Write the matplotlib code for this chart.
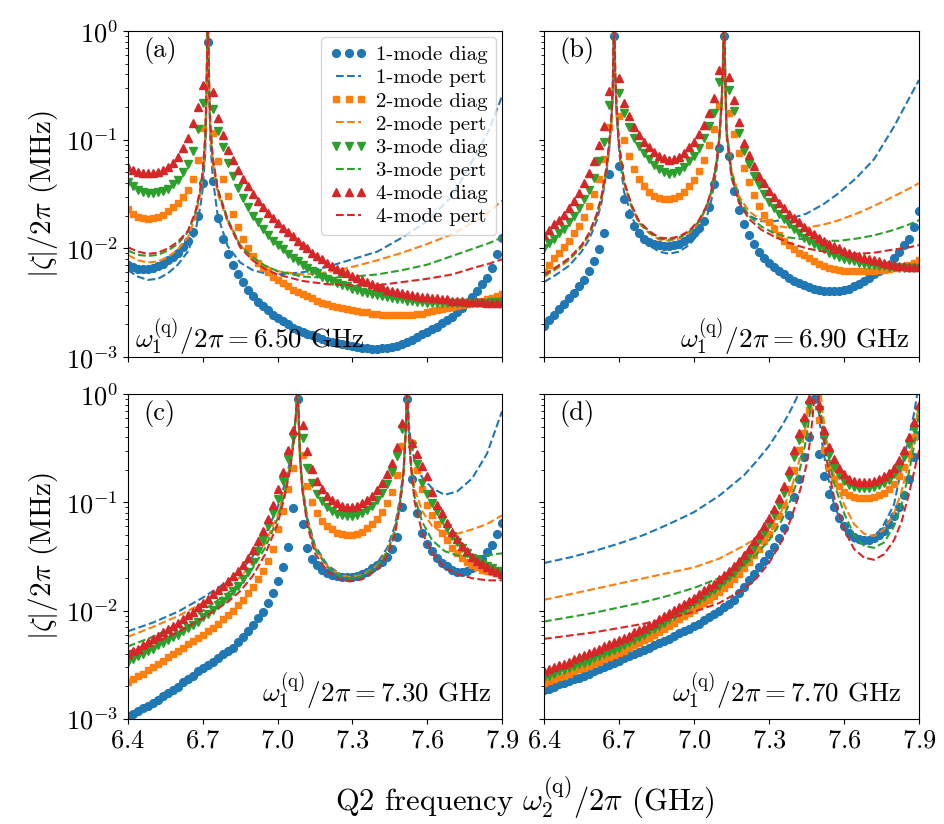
import numpy as np
import matplotlib
matplotlib.use('Agg')
import matplotlib.pyplot as plt

plt.rcParams['font.family'] = 'serif'
plt.rcParams['font.serif'] = ['cmr10']
plt.rcParams['mathtext.fontset'] = 'cm'
plt.rcParams['axes.formatter.use_mathtext'] = True

# Q2 frequency grid of the diagonalisation points (GHz)
q2 = np.round(np.arange(6.40, 7.901, 0.02), 2)

# values below are log10(|zeta|/2pi in MHz)
# ---- (a) w1 = 6.50 GHz
a_diag1 = [-2.15, -2.17, -2.19, -2.19, -2.19, -2.18, -2.16, -2.14, -2.11, -2.08,
           -2.04, -1.99, -1.93, -1.85, -1.70, -1.40, -0.10, -1.38, -1.72, -1.91,
           -2.05, -2.15, -2.24, -2.31, -2.38, -2.44, -2.49, -2.53, -2.57, -2.61,
           -2.64, -2.67, -2.70, -2.73, -2.75, -2.77, -2.79, -2.80, -2.82, -2.83,
           -2.85, -2.86, -2.87, -2.88, -2.89, -2.90, -2.91, -2.92, -2.92, -2.93,
           -2.93, -2.92, -2.92, -2.91, -2.90, -2.88, -2.86, -2.84, -2.82, -2.79,
           -2.77, -2.74, -2.72, -2.69, -2.66, -2.63, -2.59, -2.55, -2.50, -2.45,
           -2.39, -2.33, -2.27, -2.18, -2.05, -1.90]
a_diag2 = [-1.64, -1.68, -1.71, -1.72, -1.73, -1.72, -1.71, -1.69, -1.66, -1.62,
           -1.58, -1.53, -1.46, -1.36, -1.19, -0.89, 0.30, -0.94, -1.20, -1.36,
           -1.52, -1.68, -1.80, -1.91, -2.00, -2.07, -2.13, -2.18, -2.22, -2.26,
           -2.29, -2.32, -2.35, -2.38, -2.40, -2.42, -2.44, -2.46, -2.48, -2.50,
           -2.51, -2.53, -2.54, -2.55, -2.56, -2.57, -2.58, -2.59, -2.59, -2.60,
           -2.60, -2.61, -2.61, -2.61, -2.61, -2.61, -2.61, -2.61, -2.60, -2.60,
           -2.59, -2.58, -2.57, -2.56, -2.55, -2.54, -2.53, -2.52, -2.51, -2.50,
           -2.49, -2.48, -2.47, -2.46, -2.44, -2.42]
a_diag3 = [-1.39, -1.43, -1.46, -1.48, -1.49, -1.49, -1.48, -1.47, -1.45, -1.41,
           -1.37, -1.30, -1.22, -1.10, -0.90, -0.66, 0.30, -0.72, -0.92, -1.07,
           -1.21, -1.33, -1.44, -1.54, -1.62, -1.70, -1.76, -1.82, -1.88, -1.93,
           -1.97, -2.01, -2.05, -2.09, -2.12, -2.15, -2.18, -2.21, -2.23, -2.26,
           -2.28, -2.30, -2.32, -2.34, -2.35, -2.37, -2.38, -2.40, -2.41, -2.42,
           -2.43, -2.44, -2.45, -2.46, -2.47, -2.47, -2.48, -2.48, -2.49, -2.49,
           -2.50, -2.50, -2.50, -2.50, -2.50, -2.50, -2.50, -2.50, -2.50, -2.50,
           -2.50, -2.50, -2.50, -2.49, -2.49, -2.49]
a_diag4 = [-1.25, -1.28, -1.30, -1.31, -1.31, -1.31, -1.30, -1.28, -1.25, -1.21,
           -1.16, -1.08, -0.98, -0.85, -0.70, -0.50, 0.30, -0.56, -0.80, -0.96,
           -1.09, -1.19, -1.28, -1.36, -1.43, -1.50, -1.56, -1.62, -1.67, -1.72,
           -1.77, -1.81, -1.85, -1.89, -1.93, -1.97, -2.00, -2.04, -2.07, -2.10,
           -2.13, -2.16, -2.19, -2.21, -2.23, -2.25, -2.27, -2.29, -2.31, -2.33,
           -2.35, -2.36, -2.38, -2.39, -2.40, -2.41, -2.42, -2.43, -2.44, -2.45,
           -2.45, -2.46, -2.46, -2.47, -2.47, -2.48, -2.48, -2.48, -2.49, -2.49,
           -2.49, -2.49, -2.50, -2.50, -2.50, -2.50]
a_knots = [6.40, 6.44, 6.48, 6.52, 6.56, 6.60, 6.64, 6.67, 6.69, 6.70, 6.71, 6.715,
           6.72, 6.725, 6.73, 6.74, 6.76, 6.80, 6.85, 6.90, 6.95, 7.00, 7.10, 7.20,
           7.30, 7.40, 7.50, 7.60, 7.70, 7.80, 7.85, 7.90]
a_pert1 = [-2.20, -2.26, -2.29, -2.28, -2.23, -2.15, -2.03, -1.85, -1.62, -1.45, -1.12, -0.65,
           0.20, -0.50, -1.00, -1.35, -1.70, -1.98, -2.13, -2.20, -2.23, -2.24, -2.22, -2.17,
           -2.10, -2.03, -1.90, -1.75, -1.52, -1.12, -0.90, -0.60]
a_pert2 = [-2.06, -2.11, -2.13, -2.12, -2.08, -2.01, -1.90, -1.72, -1.50, -1.33, -1.00, -0.55,
           0.20, -0.45, -0.90, -1.22, -1.50, -1.75, -1.97, -2.08, -2.16, -2.21, -2.24, -2.22,
           -2.17, -2.11, -2.04, -1.96, -1.87, -1.74, -1.66, -1.56]
a_pert3 = [-2.02, -2.06, -2.07, -2.06, -2.02, -1.96, -1.85, -1.68, -1.47, -1.30, -0.98, -0.55,
           0.20, -0.42, -0.85, -1.17, -1.45, -1.73, -1.97, -2.08, -2.16, -2.21, -2.26, -2.27,
           -2.26, -2.24, -2.20, -2.15, -2.07, -1.99, -1.95, -1.90]
a_pert4 = [-1.99, -2.03, -2.05, -2.04, -2.00, -1.94, -1.84, -1.67, -1.46, -1.29, -0.97, -0.55,
           0.20, -0.42, -0.85, -1.17, -1.46, -1.75, -1.99, -2.11, -2.19, -2.24, -2.30, -2.33,
           -2.34, -2.34, -2.31, -2.28, -2.24, -2.17, -2.14, -2.10]

# ---- (b) w1 = 6.90 GHz
b_diag1 = [-2.71, -2.66, -2.61, -2.56, -2.51, -2.46, -2.41, -2.35, -2.29, -2.21,
           -2.12, -2.01, -1.86, -1.32, -0.05, -1.24, -1.55, -1.68, -1.79, -1.86,
           -1.91, -1.94, -1.96, -1.97, -1.98, -1.98, -1.97, -1.96, -1.93, -1.90,
           -1.86, -1.81, -1.75, -1.62, -1.41, -1.08, -0.05, -1.15, -1.47, -1.65,
           -1.78, -1.88, -1.96, -2.03, -2.09, -2.13, -2.17, -2.21, -2.24, -2.27,
           -2.30, -2.32, -2.34, -2.36, -2.37, -2.38, -2.39, -2.39, -2.39, -2.39,
           -2.38, -2.37, -2.35, -2.33, -2.30, -2.27, -2.24, -2.21, -2.18, -2.15,
           -2.09, -2.03, -1.97, -1.91, -1.80, -1.66]
b_diag2 = [-2.22, -2.15, -2.09, -2.04, -1.99, -1.93, -1.86, -1.79, -1.71, -1.61,
           -1.50, -1.36, -1.18, -0.88, 0.30, -0.78, -1.00, -1.15, -1.27, -1.36,
           -1.43, -1.48, -1.52, -1.54, -1.55, -1.55, -1.54, -1.52, -1.48, -1.43,
           -1.37, -1.29, -1.19, -1.05, -0.90, -0.69, 0.30, -0.75, -0.95, -1.12,
           -1.26, -1.39, -1.51, -1.61, -1.69, -1.76, -1.82, -1.88, -1.93, -1.97,
           -2.01, -2.04, -2.06, -2.09, -2.12, -2.14, -2.16, -2.18, -2.19, -2.20,
           -2.21, -2.21, -2.21, -2.21, -2.21, -2.21, -2.21, -2.20, -2.20, -2.19,
           -2.18, -2.17, -2.16, -2.15, -2.13, -2.11]
b_diag3 = [-2.00, -1.95, -1.91, -1.86, -1.82, -1.76, -1.70, -1.63, -1.55, -1.46,
           -1.35, -1.20, -1.02, -0.68, 0.30, -0.57, -0.75, -0.88, -0.98, -1.06,
           -1.12, -1.18, -1.23, -1.27, -1.30, -1.32, -1.31, -1.29, -1.25, -1.20,
           -1.15, -1.08, -0.98, -0.87, -0.75, -0.47, 0.30, -0.54, -0.74, -0.94,
           -1.10, -1.22, -1.33, -1.42, -1.50, -1.57, -1.63, -1.68, -1.73, -1.78,
           -1.82, -1.86, -1.90, -1.93, -1.96, -1.99, -2.01, -2.04, -2.06, -2.08,
           -2.10, -2.11, -2.12, -2.13, -2.14, -2.15, -2.15, -2.16, -2.16, -2.17,
           -2.17, -2.18, -2.18, -2.18, -2.18, -2.18]
b_diag4 = [-1.88, -1.83, -1.78, -1.74, -1.69, -1.63, -1.56, -1.49, -1.40, -1.31,
           -1.20, -1.05, -0.87, -0.55, 0.30, -0.43, -0.66, -0.78, -0.88, -0.96,
           -1.02, -1.07, -1.11, -1.15, -1.17, -1.19, -1.18, -1.16, -1.12, -1.07,
           -1.02, -0.95, -0.86, -0.75, -0.62, -0.36, 0.30, -0.42, -0.63, -0.84,
           -1.03, -1.14, -1.24, -1.33, -1.40, -1.47, -1.53, -1.58, -1.63, -1.68,
           -1.72, -1.76, -1.80, -1.84, -1.87, -1.90, -1.93, -1.96, -1.98, -2.00,
           -2.02, -2.04, -2.06, -2.07, -2.09, -2.10, -2.11, -2.12, -2.13, -2.14,
           -2.15, -2.16, -2.16, -2.17, -2.17, -2.17]
b_knots = [6.40, 6.45, 6.50, 6.55, 6.58, 6.61, 6.63, 6.65, 6.66, 6.67, 6.675, 6.68,
           6.685, 6.69, 6.70, 6.72, 6.75, 6.78, 6.82, 6.86, 6.90, 6.94, 6.98, 7.02,
           7.05, 7.07, 7.09, 7.10, 7.11, 7.115, 7.12, 7.125, 7.13, 7.15, 7.18, 7.22,
           7.27, 7.32, 7.38, 7.45, 7.52, 7.58, 7.65, 7.72, 7.80, 7.86, 7.90]
b_pert1 = [-2.31, -2.24, -2.16, -2.03, -1.92, -1.75, -1.58, -1.30, -1.10, -0.82, -0.55, 0.20,
           -0.45, -0.75, -1.10, -1.48, -1.70, -1.86, -1.97, -2.03, -2.05, -2.03, -1.97, -1.86,
           -1.72, -1.55, -1.27, -1.05, -0.70, -0.40, 0.20, -0.45, -0.95, -1.35, -1.58, -1.70,
           -1.75, -1.75, -1.73, -1.68, -1.59, -1.49, -1.35, -1.18, -0.88, -0.62, -0.45]
b_pert2 = [-2.26, -2.19, -2.11, -1.99, -1.88, -1.71, -1.54, -1.27, -1.07, -0.80, -0.53, 0.20,
           -0.43, -0.72, -1.05, -1.40, -1.62, -1.77, -1.86, -1.92, -1.93, -1.91, -1.86, -1.76,
           -1.63, -1.48, -1.22, -1.02, -0.68, -0.38, 0.20, -0.43, -0.90, -1.28, -1.52, -1.66,
           -1.74, -1.79, -1.81, -1.81, -1.78, -1.74, -1.68, -1.61, -1.52, -1.45, -1.40]
b_pert3 = [-2.25, -2.18, -2.10, -1.98, -1.87, -1.70, -1.53, -1.26, -1.06, -0.79, -0.52, 0.20,
           -0.42, -0.71, -1.04, -1.39, -1.61, -1.76, -1.85, -1.91, -1.92, -1.90, -1.85, -1.75,
           -1.62, -1.47, -1.21, -1.01, -0.67, -0.37, 0.20, -0.43, -0.92, -1.30, -1.55, -1.70,
           -1.80, -1.86, -1.90, -1.92, -1.93, -1.93, -1.91, -1.88, -1.83, -1.78, -1.74]
b_pert4 = [-2.24, -2.17, -2.09, -1.97, -1.86, -1.69, -1.52, -1.25, -1.05, -0.78, -0.51, 0.20,
           -0.41, -0.70, -1.03, -1.38, -1.60, -1.75, -1.84, -1.90, -1.91, -1.89, -1.84, -1.74,
           -1.61, -1.46, -1.20, -1.00, -0.66, -0.36, 0.20, -0.44, -0.94, -1.33, -1.58, -1.73,
           -1.83, -1.89, -1.95, -2.00, -2.03, -2.05, -2.05, -2.04, -2.01, -1.99, -1.97]

# ---- (c) w1 = 7.30 GHz
c_diag1 = [-2.97, -2.95, -2.93, -2.90, -2.88, -2.85, -2.82, -2.79, -2.76, -2.73,
           -2.70, -2.66, -2.63, -2.60, -2.56, -2.53, -2.50, -2.47, -2.44, -2.40,
           -2.37, -2.34, -2.29, -2.24, -2.19, -2.13, -2.07, -2.01, -1.93, -1.84,
           -1.73, -1.60, -1.41, -1.05, -0.05, -1.20, -1.42, -1.52, -1.58, -1.62,
           -1.65, -1.67, -1.68, -1.69, -1.69, -1.69, -1.68, -1.66, -1.64, -1.61,
           -1.58, -1.55, -1.50, -1.43, -1.32, -1.04, -0.05, -0.78, -1.10, -1.28,
           -1.38, -1.45, -1.51, -1.56, -1.59, -1.62, -1.64, -1.64, -1.63, -1.61,
           -1.57, -1.52, -1.46, -1.39, -1.29, -1.19]
c_diag2 = [-2.66, -2.63, -2.60, -2.58, -2.55, -2.52, -2.49, -2.46, -2.43, -2.40,
           -2.37, -2.34, -2.31, -2.28, -2.25, -2.22, -2.19, -2.16, -2.12, -2.08,
           -2.04, -2.00, -1.95, -1.90, -1.84, -1.78, -1.71, -1.63, -1.54, -1.43,
           -1.25, -1.08, -0.88, -0.68, 0.30, -0.56, -0.85, -1.00, -1.10, -1.17,
           -1.22, -1.25, -1.28, -1.29, -1.30, -1.30, -1.29, -1.27, -1.24, -1.20,
           -1.15, -1.09, -1.01, -0.90, -0.75, -0.48, 0.30, -0.45, -0.70, -0.88,
           -1.02, -1.12, -1.20, -1.28, -1.35, -1.42, -1.47, -1.51, -1.55, -1.58,
           -1.60, -1.62, -1.63, -1.64, -1.65, -1.65]
c_diag3 = [-2.47, -2.45, -2.42, -2.40, -2.37, -2.35, -2.32, -2.30, -2.27, -2.24,
           -2.22, -2.19, -2.16, -2.13, -2.10, -2.06, -2.03, -1.99, -1.95, -1.91,
           -1.87, -1.82, -1.77, -1.71, -1.64, -1.55, -1.45, -1.35, -1.22, -1.10,
           -0.97, -0.80, -0.60, -0.40, 0.30, -0.41, -0.68, -0.82, -0.92, -0.99,
           -1.04, -1.08, -1.11, -1.12, -1.13, -1.13, -1.12, -1.10, -1.07, -1.03,
           -0.98, -0.91, -0.83, -0.72, -0.57, -0.32, 0.30, -0.48, -0.65, -0.82,
           -0.92, -1.01, -1.08, -1.16, -1.24, -1.31, -1.37, -1.42, -1.47, -1.51,
           -1.54, -1.57, -1.59, -1.61, -1.63, -1.64]
c_diag4 = [-2.40, -2.37, -2.35, -2.32, -2.29, -2.26, -2.23, -2.20, -2.17, -2.14,
           -2.11, -2.08, -2.04, -2.01, -1.97, -1.93, -1.89, -1.85, -1.81, -1.77,
           -1.73, -1.68, -1.63, -1.58, -1.51, -1.44, -1.36, -1.26, -1.15, -1.02,
           -0.88, -0.72, -0.52, -0.33, 0.30, -0.29, -0.53, -0.69, -0.80, -0.88,
           -0.94, -0.98, -1.01, -1.03, -1.04, -1.04, -1.03, -1.01, -0.98, -0.94,
           -0.89, -0.82, -0.74, -0.64, -0.49, -0.27, 0.30, -0.45, -0.55, -0.66,
           -0.76, -0.90, -1.02, -1.10, -1.19, -1.27, -1.34, -1.40, -1.45, -1.50,
           -1.54, -1.57, -1.60, -1.62, -1.64, -1.66]
c_knots = [6.40, 6.50, 6.60, 6.70, 6.80, 6.85, 6.90, 6.95, 7.00, 7.03, 7.05, 7.065,
           7.075, 7.08, 7.085, 7.09, 7.10, 7.12, 7.15, 7.20, 7.25, 7.29, 7.34, 7.40,
           7.44, 7.47, 7.49, 7.505, 7.515, 7.52, 7.525, 7.535, 7.55, 7.58, 7.62, 7.67,
           7.72, 7.78, 7.84, 7.90]
c_pert1 = [-2.19, -2.11, -2.01, -1.88, -1.73, -1.64, -1.50, -1.30, -1.05, -0.82, -0.62, -0.40,
           -0.15, 0.20, -0.25, -0.55, -0.85, -1.15, -1.40, -1.58, -1.66, -1.68, -1.66, -1.56,
           -1.42, -1.22, -0.98, -0.70, -0.30, 0.20, -0.25, -0.45, -0.62, -0.77, -0.87, -0.93,
           -0.90, -0.78, -0.55, -0.16]
c_pert2 = [-2.24, -2.15, -2.05, -1.93, -1.78, -1.69, -1.56, -1.38, -1.12, -0.88, -0.66, -0.42,
           -0.15, 0.20, -0.25, -0.58, -0.88, -1.18, -1.42, -1.59, -1.67, -1.69, -1.67, -1.58,
           -1.45, -1.26, -1.02, -0.72, -0.30, 0.20, -0.30, -0.62, -0.88, -1.08, -1.22, -1.29,
           -1.29, -1.25, -1.20, -1.12]
c_pert3 = [-2.33, -2.24, -2.13, -2.00, -1.84, -1.74, -1.61, -1.42, -1.15, -0.90, -0.68, -0.43,
           -0.15, 0.20, -0.25, -0.58, -0.88, -1.18, -1.43, -1.60, -1.68, -1.70, -1.68, -1.59,
           -1.46, -1.27, -1.03, -0.73, -0.30, 0.20, -0.30, -0.66, -0.95, -1.18, -1.35, -1.45,
           -1.49, -1.50, -1.49, -1.47]
c_pert4 = [-2.38, -2.30, -2.20, -2.07, -1.92, -1.82, -1.68, -1.48, -1.20, -0.93, -0.70, -0.44,
           -0.15, 0.20, -0.25, -0.60, -0.90, -1.22, -1.47, -1.64, -1.71, -1.73, -1.71, -1.62,
           -1.49, -1.30, -1.05, -0.74, -0.30, 0.20, -0.30, -0.68, -1.00, -1.28, -1.47, -1.60,
           -1.66, -1.70, -1.72, -1.72]

# ---- (d) w1 = 7.70 GHz
d_diag1 = [-2.73, -2.72, -2.70, -2.68, -2.67, -2.65, -2.63, -2.62, -2.60, -2.58,
           -2.56, -2.54, -2.52, -2.50, -2.48, -2.46, -2.44, -2.42, -2.40, -2.38,
           -2.36, -2.34, -2.32, -2.30, -2.28, -2.26, -2.23, -2.21, -2.19, -2.17,
           -2.14, -2.12, -2.09, -2.06, -2.03, -2.00, -1.97, -1.94, -1.90, -1.84,
           -1.78, -1.72, -1.66, -1.60, -1.54, -1.48, -1.41, -1.33, -1.24, -1.12,
           -0.95, -0.78, -0.58, -0.40, -0.05, -0.55, -0.76, -0.92, -1.04, -1.14,
           -1.22, -1.28, -1.32, -1.34, -1.35, -1.35, -1.33, -1.30, -1.26, -1.20,
           -1.13, -1.04, -0.93, -0.78, -0.58, -0.38]
d_diag2 = [-2.67, -2.65, -2.63, -2.61, -2.60, -2.58, -2.56, -2.54, -2.53, -2.51,
           -2.49, -2.47, -2.45, -2.43, -2.41, -2.39, -2.37, -2.34, -2.32, -2.30,
           -2.27, -2.25, -2.22, -2.20, -2.17, -2.14, -2.11, -2.08, -2.05, -2.02,
           -1.99, -1.96, -1.93, -1.90, -1.86, -1.83, -1.79, -1.75, -1.71, -1.66,
           -1.61, -1.55, -1.49, -1.43, -1.36, -1.29, -1.22, -1.13, -1.02, -0.88,
           -0.70, -0.52, -0.36, -0.15, 0.30, -0.24, -0.52, -0.67, -0.78, -0.85,
           -0.90, -0.93, -0.95, -0.96, -0.96, -0.96, -0.95, -0.93, -0.91, -0.88,
           -0.83, -0.76, -0.67, -0.55, -0.40, -0.20]
d_diag3 = [-2.62, -2.60, -2.58, -2.56, -2.55, -2.53, -2.51, -2.49, -2.48, -2.46,
           -2.44, -2.42, -2.40, -2.38, -2.36, -2.34, -2.32, -2.29, -2.27, -2.24,
           -2.22, -2.19, -2.17, -2.14, -2.11, -2.08, -2.05, -2.02, -1.99, -1.96,
           -1.93, -1.90, -1.87, -1.84, -1.81, -1.77, -1.73, -1.69, -1.65, -1.60,
           -1.55, -1.49, -1.42, -1.35, -1.28, -1.20, -1.12, -1.02, -0.91, -0.77,
           -0.58, -0.42, -0.27, -0.10, 0.30, -0.15, -0.41, -0.56, -0.67, -0.75,
           -0.80, -0.84, -0.86, -0.87, -0.87, -0.87, -0.86, -0.84, -0.82, -0.79,
           -0.74, -0.67, -0.58, -0.46, -0.32, -0.15]
d_diag4 = [-2.56, -2.54, -2.52, -2.50, -2.49, -2.47, -2.45, -2.43, -2.41, -2.39,
           -2.37, -2.35, -2.33, -2.31, -2.29, -2.27, -2.25, -2.23, -2.20, -2.18,
           -2.16, -2.13, -2.11, -2.08, -2.05, -2.02, -1.99, -1.97, -1.94, -1.91,
           -1.88, -1.85, -1.81, -1.78, -1.75, -1.71, -1.67, -1.63, -1.59, -1.54,
           -1.49, -1.43, -1.36, -1.29, -1.22, -1.14, -1.06, -0.96, -0.85, -0.70,
           -0.52, -0.36, -0.21, -0.05, 0.30, -0.10, -0.33, -0.49, -0.60, -0.68,
           -0.74, -0.78, -0.80, -0.81, -0.81, -0.81, -0.80, -0.78, -0.76, -0.73,
           -0.68, -0.61, -0.52, -0.40, -0.26, -0.10]
d_knots = [6.40, 6.50, 6.60, 6.70, 6.80, 6.90, 7.00, 7.10, 7.20, 7.25, 7.30, 7.35,
           7.38, 7.41, 7.43, 7.45, 7.465, 7.475, 7.485, 7.49, 7.50, 7.51, 7.53, 7.56,
           7.60, 7.64, 7.68, 7.72, 7.76, 7.80, 7.83, 7.86, 7.88, 7.90]
d_pert1 = [-1.56, -1.51, -1.45, -1.38, -1.30, -1.20, -1.09, -0.94, -0.75, -0.62, -0.48, -0.30,
           -0.18, -0.04, 0.10, 0.25, 0.30, 0.30, 0.30, 0.30, -0.18, -0.42, -0.70, -1.02,
           -1.25, -1.36, -1.39, -1.33, -1.20, -1.02, -0.68, -0.40, -0.18, 0.10]
d_pert2 = [-1.90, -1.85, -1.80, -1.75, -1.70, -1.65, -1.60, -1.52, -1.40, -1.33, -1.23, -1.08,
           -0.93, -0.72, -0.52, -0.25, 0.05, 0.30, 0.30, 0.30, 0.30, -0.10, -0.42, -0.75,
           -1.02, -1.20, -1.29, -1.31, -1.25, -1.10, -0.90, -0.62, -0.40, -0.10]
d_pert3 = [-2.10, -2.06, -2.02, -1.97, -1.92, -1.86, -1.79, -1.70, -1.58, -1.48, -1.35, -1.17,
           -1.02, -0.82, -0.63, -0.40, -0.15, 0.10, 0.30, 0.30, -0.05, -0.22, -0.50, -0.82,
           -1.10, -1.30, -1.40, -1.42, -1.37, -1.22, -1.02, -0.72, -0.48, -0.18]
d_pert4 = [-2.26, -2.23, -2.20, -2.16, -2.12, -2.07, -2.01, -1.93, -1.80, -1.70, -1.56, -1.36,
           -1.20, -1.00, -0.84, -0.65, -0.42, -0.20, 0.10, 0.30, -0.10, -0.28, -0.60, -0.95,
           -1.25, -1.43, -1.51, -1.53, -1.48, -1.35, -1.18, -0.92, -0.72, -0.52]

panel_tags = ['(a)', '(b)', '(c)', '(d)']
w1_values = ['6.50', '6.90', '7.30', '7.70']
diag_sets = [[a_diag1, a_diag2, a_diag3, a_diag4], [b_diag1, b_diag2, b_diag3, b_diag4],
             [c_diag1, c_diag2, c_diag3, c_diag4], [d_diag1, d_diag2, d_diag3, d_diag4]]
knot_sets = [a_knots, b_knots, c_knots, d_knots]
pert_sets = [[a_pert1, a_pert2, a_pert3, a_pert4], [b_pert1, b_pert2, b_pert3, b_pert4],
             [c_pert1, c_pert2, c_pert3, c_pert4], [d_pert1, d_pert2, d_pert3, d_pert4]]

colors = ['#1f77b4', '#ff7f0e', '#2ca02c', '#d62728']
markers = ['o', 's', 'v', '^']
msizes = [5.6, 5.0, 6.0, 6.0]

fig = plt.figure(figsize=(9.45, 8.24), dpi=100)
rects = [[0.1354, 0.5667, 0.3958, 0.3956], [0.5757, 0.5667, 0.3968, 0.3956],
         [0.1354, 0.1274, 0.3958, 0.3944], [0.5757, 0.1274, 0.3968, 0.3944]]
text_pos = [(0.02, 0.028, 'left'), (0.976, 0.028, 'right'),
            (0.972, 0.053, 'right'), (0.954, 0.053, 'right')]

for p in range(4):
    ax = fig.add_axes(rects[p])
    for j in range(4):
        ax.plot(q2, 10 ** np.array(diag_sets[p][j]), ls='none', marker=markers[j],
                ms=msizes[j], color=colors[j], label=f'{j+1}-mode diag')
        ax.plot(knot_sets[p], 10 ** np.array(pert_sets[p][j]), '--', lw=1.5,
                color=colors[j], label=f'{j+1}-mode pert')
    ax.set_yscale('log')
    ax.set_ylim(1e-3, 1)
    ax.set_xlim(6.4, 7.9)
    ax.set_xticks([6.4, 6.7, 7.0, 7.3, 7.6, 7.9])
    ax.tick_params(labelsize=19)
    if p < 2:
        ax.tick_params(labelbottom=False)
    if p % 2 == 1:
        ax.tick_params(labelleft=False)
    else:
        ax.set_ylabel(r'$|\zeta|/2\pi$ (MHz)', fontsize=21)
    ax.text(0.04, 0.94, panel_tags[p], transform=ax.transAxes, fontsize=19,
            ha='left', va='center')
    tx, ty, tha = text_pos[p]
    ax.text(tx, ty, r'$\omega_1^{(\mathrm{q})}/2\pi = ' + w1_values[p] + '$ GHz',
            transform=ax.transAxes, fontsize=19.5, ha=tha, va='baseline')
    if p == 0:
        ax.legend(loc='upper right', fontsize=15, numpoints=3, handlelength=1.8,
                  handletextpad=0.4, labelspacing=0.22, borderaxespad=0.3)

fig.text(0.5556, 0.033, r'Q2 frequency $\omega_2^{(\mathrm{q})}/2\pi$ (GHz)',
         ha='center', va='center', fontsize=22)

fig.savefig('out.png', dpi=100)
